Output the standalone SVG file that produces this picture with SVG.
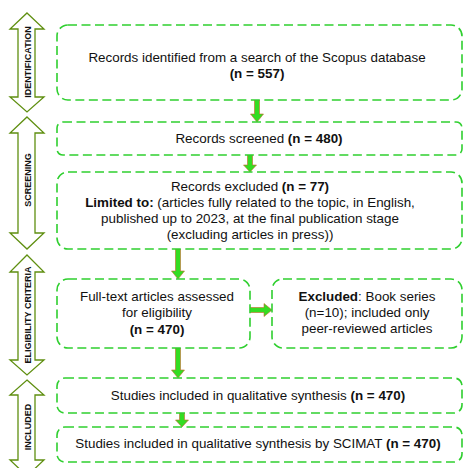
<svg xmlns="http://www.w3.org/2000/svg" width="463" height="468" viewBox="0 0 463 468">
<style>
.box{fill:#fff;stroke:#2fcf2f;stroke-width:1.6;stroke-dasharray:9 4.5}
.side{fill:#fff;stroke:#5f8f10;stroke-width:1.3;stroke-linejoin:miter}
.t{font-family:"Liberation Sans",Arial,sans-serif;font-size:13.4px;fill:#111;text-anchor:middle}
.b{font-weight:bold}
.lab{font-family:"Liberation Sans",Arial,sans-serif;font-size:9px;font-weight:bold;fill:#111;text-anchor:middle}
.arr{fill:#33dd22;stroke:#c8642a;stroke-width:0.6}
</style>
<rect width="463" height="468" fill="#fff"/>
<g id="phases">
<g id="phase-identification">
<polygon class="side" points="27,13 44,29 35,29 35,97 44,97 27,112 10,97 18,97 18,29 10,29"/>
<text class="lab" transform="translate(30.5,62) rotate(-90)">IDENTIFICATION</text>
</g>
<g id="phase-screening">
<polygon class="side" points="27,117 44,133 35,133 35,233 44,233 27,249 10,233 18,233 18,133 10,133"/>
<text class="lab" transform="translate(30.5,180) rotate(-90)">SCREENING</text>
</g>
<g id="phase-eligibility">
<polygon class="side" points="27,255 44,272 35,272 35,360 44,360 27,375 10,360 18,360 18,272 10,272"/>
<text class="lab" transform="translate(30.5,315) rotate(-90)">ELIGIBILITY  CRITERIA</text>
</g>
<g id="phase-included">
<polygon class="side" points="27,380 44,395 35,395 35,460 44,460 27,476 10,460 18,460 18,395 10,395"/>
<text class="lab" transform="translate(30.5,427) rotate(-90)">INCLUDED</text>
</g>
</g>
<g id="connectors">
<polygon class="arr" points="254.5,100 259.5,100 259.5,114 263.5,114 257,122 250.5,114 254.5,114"/>
<polygon class="arr" points="247.5,155 252.5,155 252.5,165 256.5,165 250,172 243.5,165 247.5,165"/>
<polygon class="arr" points="175.5,249 180.5,249 180.5,271 184.5,271 178,279 171.5,271 175.5,271"/>
<polygon class="arr" points="248,307.5 264,307.5 264,303.5 272,310 264,316.5 264,312.5 248,312.5"/>
<polygon class="arr" points="175.5,348 180.5,348 180.5,370 184.5,370 178,378 171.5,370 175.5,370"/>
<polygon class="arr" points="179.5,413 184.5,413 184.5,420 188.5,420 182,427 175.5,420 179.5,420"/>
</g>
<g id="n1">
<rect class="box" x="57" y="25" width="405" height="75" rx="11"/>
<text class="t" x="257" y="62">Records identified from a search of the Scopus database</text>
<text class="t b" x="257" y="78">(n = 557)</text>
</g>
<g id="n2">
<rect class="box" x="57" y="122" width="405" height="33" rx="6"/>
<text class="t" x="259" y="143">Records screened <tspan class="b">(n = 480)</tspan></text>
</g>
<g id="n3">
<rect class="box" x="57" y="172" width="405" height="77" rx="11"/>
<text class="t" x="250" y="191">Records excluded <tspan class="b">(n = 77)</tspan></text>
<text class="t" x="250" y="207"><tspan class="b">Limited to:</tspan> (articles fully related to the topic, in English,</text>
<text class="t" x="250" y="223">published up to 2023, at the final publication stage</text>
<text class="t" x="250" y="239">(excluding articles in press))</text>
</g>
<g id="n4">
<rect class="box" x="57" y="279" width="193" height="69" rx="11"/>
<text class="t" x="157" y="301">Full-text articles assessed</text>
<text class="t" x="157" y="317">for eligibility</text>
<text class="t b" x="157" y="334">(n = 470)</text>
</g>
<g id="n5">
<rect class="box" x="272" y="279" width="190" height="69" rx="11"/>
<text class="t" x="367" y="301"><tspan class="b">Excluded</tspan>: Book series</text>
<text class="t" x="367" y="317">(n=10); included only</text>
<text class="t" x="367" y="333">peer-reviewed articles</text>
</g>
<g id="n6">
<rect class="box" x="57" y="378" width="405" height="35" rx="8"/>
<text class="t" x="258" y="400">Studies included in qualitative synthesis <tspan class="b">(n = 470)</tspan></text>
</g>
<g id="n7">
<rect class="box" x="57" y="427" width="405" height="35" rx="8"/>
<text class="t" x="258" y="448">Studies included in qualitative synthesis by SCIMAT <tspan class="b">(n = 470)</tspan></text>
</g>
</svg>
